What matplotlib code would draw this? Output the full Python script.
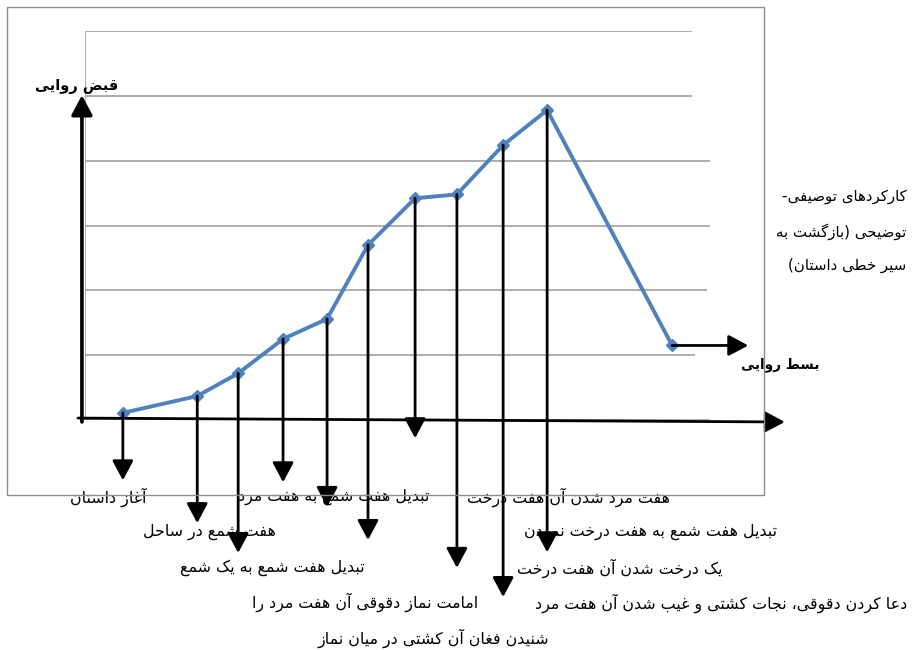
import matplotlib
matplotlib.use('Agg')
import matplotlib.pyplot as plt
from matplotlib.patches import Rectangle

# narrative curve: position of each event and its level
event_x = [0.86, 2.55, 3.48, 4.5, 5.5, 6.43, 7.5, 8.45, 9.5, 10.5, 13.34]
event_y = [0.11, 0.37, 0.72, 1.25, 1.56, 2.70, 3.42, 3.48, 4.24, 4.78, 1.15]
# where the arrow dropped from each of the first ten events ends
drop_end = [-0.93, -1.59, -2.05, -0.96, -1.34, -1.85, -0.28, -2.28, -2.73, -2.04]
grid_levels = [0, 1, 2, 3, 4, 5, 6]
grid_end = [14.2, 13.86, 14.14, 14.2, 14.2, 13.8, 13.8]

event_labels = [
    'آغاز داستان',
    'تبدیل هفت شمع به هفت مرد',
    'هفت مرد شدن آن هفت درخت',
    'هفت شمع در ساحل',
    'تبدیل هفت شمع به هفت درخت نمودن',
    'تبدیل هفت شمع به یک شمع',
    'یک درخت شدن آن هفت درخت',
    'امامت نماز دقوقی آن هفت مرد را',
    'دعا کردن دقوقی، نجات کشتی و غیب شدن آن هفت مرد',
    'شنیدن فغان آن کشتی در میان نماز',
]
label_x = [0.52, 5.64, 10.98, 2.82, 12.84, 4.25, 12.16, 6.36, 14.45, 7.91]
label_y = [-1.19, -1.19, -1.19, -1.73, -1.73, -2.28, -2.28, -2.81, -2.82, -3.36]

side_note = ['کارکردهای توصیفی-', 'توضیحی (بازگشت به', 'سیر خطی داستان)']
top_label = 'قبض روایی'
end_label = 'بسط روایی'


# --- tiny arabic/persian shaper (matplotlib does not join letters) ---
FORMS = {}
_start = 0xFE8D
for ch, n in [('ا', 2), ('ب', 4), ('ة', 2), ('ت', 4), ('ث', 4), ('ج', 4), ('ح', 4),
              ('خ', 4), ('د', 2), ('ذ', 2), ('ر', 2), ('ز', 2), ('س', 4), ('ش', 4),
              ('ص', 4), ('ض', 4), ('ط', 4), ('ظ', 4), ('ع', 4), ('غ', 4), ('ف', 4),
              ('ق', 4), ('ك', 4), ('ل', 4), ('م', 4), ('ن', 4), ('ه', 4), ('و', 2),
              ('ى', 2), ('ي', 4)]:
    FORMS[ch] = tuple(range(_start, _start + n))
    _start += n
FORMS.update({
    'آ': (0xFE81, 0xFE82), 'أ': (0xFE83, 0xFE84), 'ؤ': (0xFE85, 0xFE86),
    'إ': (0xFE87, 0xFE88), 'ئ': (0xFE89, 0xFE8A, 0xFE8B, 0xFE8C),
    'پ': (0xFB56, 0xFB57, 0xFB58, 0xFB59), 'چ': (0xFB7A, 0xFB7B, 0xFB7C, 0xFB7D),
    'ژ': (0xFB8A, 0xFB8B), 'ک': (0xFB8E, 0xFB8F, 0xFB90, 0xFB91),
    'گ': (0xFB92, 0xFB93, 0xFB94, 0xFB95), 'ی': (0xFBFC, 0xFBFD, 0xFBFE, 0xFBFF),
})
MIRROR = {'(': ')', ')': '('}


def shape(text):
    out = []
    for i, ch in enumerate(text):
        f = FORMS.get(ch)
        if f is None:
            out.append(MIRROR.get(ch, ch))
            continue
        prev = FORMS.get(text[i - 1]) if i > 0 else None
        nxt = FORMS.get(text[i + 1]) if i + 1 < len(text) else None
        join_prev = prev is not None and len(prev) == 4
        join_next = len(f) == 4 and nxt is not None
        if join_prev and join_next:
            k = 3
        elif join_prev:
            k = 1
        elif join_next:
            k = 2
        else:
            k = 0
        out.append(chr(f[k]))
    return ''.join(out[::-1])


def main():
    fig = plt.figure(figsize=(9.18, 6.5), dpi=100)
    plt.rcParams['font.family'] = ['DejaVu Sans']

    fig.patches.append(Rectangle((0.0076, 0.2385), 0.8246, 0.7508, transform=fig.transFigure,
                                 fill=False, edgecolor='#8c8c8c', lw=1.0))

    ax = fig.add_axes([0.0926, 0.3538, 0.6808, 0.5985])
    ax.set_xlim(0, 14.2)
    ax.set_ylim(0, 6)
    ax.axis('off')
    ax.vlines(0, 0, 6, color='#a0a0a0', lw=1.2)
    ax.hlines(grid_levels, 0, grid_end, color='#a0a0a0', lw=1.2)

    ax.plot(event_x, event_y, color='#4f81bd', lw=2.8, marker='D', ms=6.5,
            markerfacecolor='#4f81bd', markeredgecolor='#4f81bd', zorder=3)

    arrow = dict(arrowstyle='-|>,head_length=0.6,head_width=0.32', color='black',
                 lw=2.0, shrinkA=0, shrinkB=0, mutation_scale=20)
    # axes of the diagram
    ax.annotate('', xy=(-0.07, 5.01), xytext=(-0.07, -0.03),
                arrowprops=dict(arrow, lw=2.6), annotation_clip=False)
    ax.annotate('', xy=(15.9, -0.03), xytext=(-0.16, 0.03),
                arrowprops=arrow, annotation_clip=False)
    for x, y, end in zip(event_x, event_y, drop_end):
        ax.annotate('', xy=(x, end), xytext=(x, y), arrowprops=arrow,
                    annotation_clip=False, zorder=4)
    ax.annotate('', xy=(15.07, event_y[-1]), xytext=(event_x[-1], event_y[-1]),
                arrowprops=arrow, annotation_clip=False, zorder=4)

    for txt, x, y in zip(event_labels, label_x, label_y):
        ax.text(x, y, shape(txt), ha='center', va='center', fontsize=11.4, clip_on=False)

    ax.text(-0.2, 5.15, shape(top_label), ha='center', va='center', fontsize=10.5,
            fontweight='bold', clip_on=False)
    ax.text(15.8, 0.86, shape(end_label), ha='center', va='center', fontsize=9.8,
            fontweight='bold', clip_on=False)
    for txt, y in zip(side_note, [3.44, 2.90, 2.38]):
        ax.text(18.66, y, shape(txt), ha='right', va='center', fontsize=10.8, clip_on=False)

    fig.savefig('out.png', dpi=100)


if __name__ == "__main__":
    main()
